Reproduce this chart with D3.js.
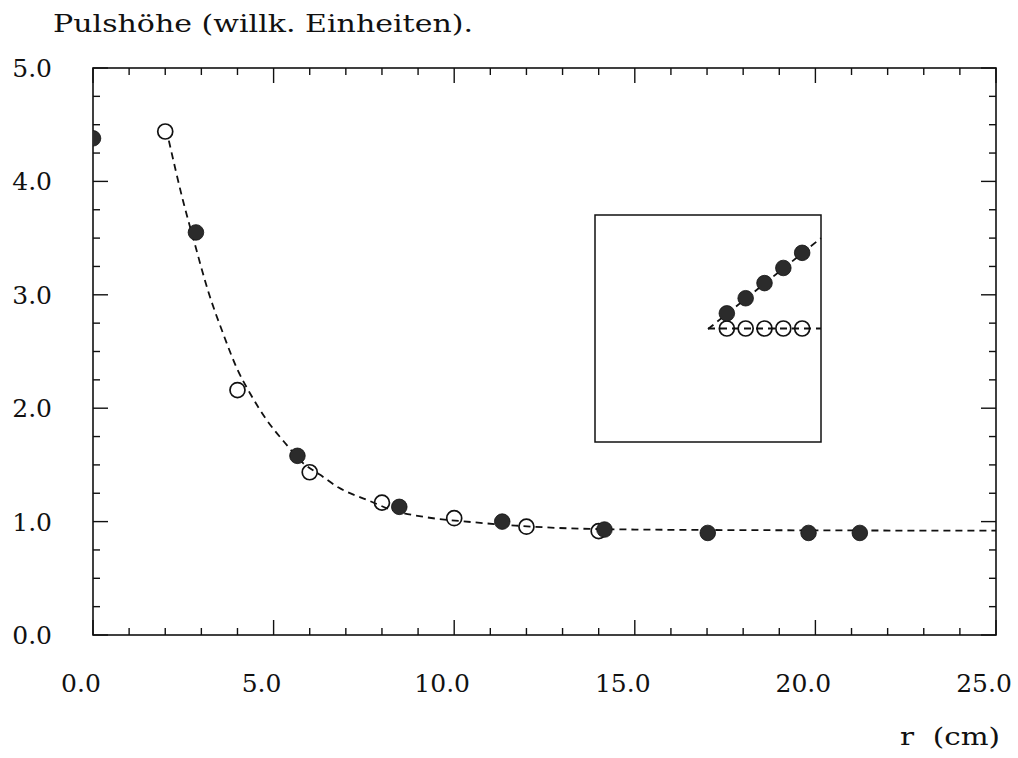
<!DOCTYPE html>
<html><head><meta charset="utf-8">
<script src="https://cdn.jsdelivr.net/npm/d3@7"></script>
<style>
html,body{margin:0;padding:0;background:#fff;}
svg{display:block;}
text{font-family:"DejaVu Serif",serif;fill:#111;}
</style></head>
<body>
<svg id="chart" width="1018" height="758"></svg>
<script>
// ---- data ----
const filledR = [0.0, 2.85, 5.66, 8.48, 11.33, 14.16, 17.02, 19.81, 21.23];
const filledH = [4.38, 3.55, 1.58, 1.13, 1.00, 0.93, 0.90, 0.90, 0.90];
const openR = [2.0, 4.0, 6.0, 8.0, 10.0, 12.0, 14.0];
const openH = [4.44, 2.16, 1.435, 1.167, 1.03, 0.955, 0.916];
const curveR = [2.1, 2.5, 2.8, 3.2, 3.6, 4.0, 4.35, 4.8, 5.3, 5.8, 6.3, 6.8, 7.6, 8.3, 9.2, 10.5, 11.7, 12.8, 15, 18, 21, 25];
const curveH = [4.36, 3.82, 3.47, 3.02, 2.66, 2.34, 2.13, 1.90, 1.70, 1.52, 1.41, 1.30, 1.19, 1.10, 1.04, 0.995, 0.965, 0.945, 0.93, 0.925, 0.922, 0.92];
const xTicks = [0, 5, 10, 15, 20, 25];
const yTicks = [0, 1, 2, 3, 4, 5];
const xTickLabels = ["0.0", "5.0", "10.0", "15.0", "20.0", "25.0"];
const yTickLabels = ["0.0", "1.0", "2.0", "3.0", "4.0", "5.0"];
const yTitle = "Pulshöhe (willk. Einheiten).";
const xTitle = "r  (cm)";
// inset (schematic, arbitrary units)
const insetFilledX = [7, 8, 9, 10, 11];
const insetFilledY = [6.8, 7.6, 8.4, 9.2, 10.0];
const insetOpenX = [7, 8, 9, 10, 11];
const insetOpenY = [6, 6, 6, 6, 6];
const insetDiagX = [6, 12];
const insetDiagY = [5.97, 10.78];
const insetFlatX = [6, 12];
const insetFlatY = [6, 6];

// ---- layout ----
const L = 93, R = 996, T = 68, B = 635;
const svg = d3.select("#chart");
const x = d3.scaleLinear().domain([0, 25]).range([L, R]);
const y = d3.scaleLinear().domain([0, 5]).range([B, T]);
const ink = "#111";

svg.append("defs").append("clipPath").attr("id", "plotclip")
  .append("rect").attr("x", L).attr("y", T).attr("width", R - L).attr("height", B - T);

// frame
svg.append("rect").attr("x", L).attr("y", T).attr("width", R - L).attr("height", B - T)
  .attr("fill", "none").attr("stroke", ink).attr("stroke-width", 1.6);

// ticks on all four sides
const xMinor = d3.range(0, 25.001, 1);
const yMinor = d3.range(0, 5.001, 0.25);
const isMajX = v => Math.abs(v / 5 - Math.round(v / 5)) < 1e-6;
const isMajY = v => Math.abs(v - Math.round(v)) < 1e-6;
const tk = svg.append("g").attr("stroke", ink).attr("stroke-width", 1.4);
xMinor.forEach(v => {
  const len = isMajX(v) ? 15 : 7;
  tk.append("line").attr("x1", x(v)).attr("x2", x(v)).attr("y1", B).attr("y2", B - len);
  tk.append("line").attr("x1", x(v)).attr("x2", x(v)).attr("y1", T).attr("y2", T + len);
});
yMinor.forEach(v => {
  const len = isMajY(v) ? 15 : 7;
  tk.append("line").attr("y1", y(v)).attr("y2", y(v)).attr("x1", L).attr("x2", L + len);
  tk.append("line").attr("y1", y(v)).attr("y2", y(v)).attr("x1", R).attr("x2", R - len);
});

// tick labels
const fs = 25;
svg.append("g").selectAll("text").data(xTicks).join("text")
  .attr("x", d => x(d) - 12).attr("y", 692)
  .attr("text-anchor", "middle").attr("font-size", fs)
  .text((d, i) => xTickLabels[i]);
svg.append("g").selectAll("text").data(yTicks).join("text")
  .attr("x", 52).attr("y", d => y(d) + 9)
  .attr("text-anchor", "end").attr("font-size", fs)
  .text((d, i) => yTickLabels[i]);

// titles
svg.append("text").attr("x", 53).attr("y", 32).attr("font-size", fs)
  .attr("textLength", 420).attr("lengthAdjust", "spacingAndGlyphs").text(yTitle);
svg.append("text").attr("x", 900).attr("y", 745).attr("font-size", fs)
  .attr("xml:space", "preserve").style("white-space", "pre")
  .attr("textLength", 100).attr("lengthAdjust", "spacingAndGlyphs").text(xTitle);

// main plot content
const plot = svg.append("g").attr("clip-path", "url(#plotclip)");
const line = d3.line().x(d => x(d[0])).y(d => y(d[1])).curve(d3.curveMonotoneX);
plot.append("path").datum(d3.zip(curveR, curveH)).attr("d", line)
  .attr("fill", "none").attr("stroke", ink).attr("stroke-width", 1.8)
  .attr("stroke-dasharray", "7,5");
plot.selectAll(".op").data(d3.zip(openR, openH)).join("circle").attr("class", "op")
  .attr("cx", d => x(d[0])).attr("cy", d => y(d[1])).attr("r", 7.5)
  .attr("fill", "none").attr("stroke", ink).attr("stroke-width", 1.7);
plot.selectAll(".fp").data(d3.zip(filledR, filledH)).join("circle").attr("class", "fp")
  .attr("cx", d => x(d[0])).attr("cy", d => y(d[1])).attr("r", 7.8)
  .attr("fill", "#2b2b2b").attr("stroke", "#111").attr("stroke-width", 0.8);

// inset
const IL = 595, IR = 821, IT = 215, IB = 442;
const ix = d3.scaleLinear().domain([0, 12]).range([IL, IR]);
const iy = d3.scaleLinear().domain([0, 12]).range([IB, IT]);
svg.append("rect").attr("x", IL).attr("y", IT).attr("width", IR - IL).attr("height", IB - IT)
  .attr("fill", "#fff").attr("stroke", ink).attr("stroke-width", 1.5);
const iline = d3.line().x(d => ix(d[0])).y(d => iy(d[1]));
[[insetDiagX, insetDiagY], [insetFlatX, insetFlatY]].forEach(([a, b]) => {
  svg.append("path").datum(d3.zip(a, b)).attr("d", iline)
    .attr("fill", "none").attr("stroke", ink).attr("stroke-width", 1.8)
    .attr("stroke-dasharray", "7,5");
});
svg.selectAll(".iop").data(d3.zip(insetOpenX, insetOpenY)).join("circle").attr("class", "iop")
  .attr("cx", d => ix(d[0])).attr("cy", d => iy(d[1])).attr("r", 7.5)
  .attr("fill", "none").attr("stroke", ink).attr("stroke-width", 1.7);
svg.selectAll(".ifp").data(d3.zip(insetFilledX, insetFilledY)).join("circle").attr("class", "ifp")
  .attr("cx", d => ix(d[0])).attr("cy", d => iy(d[1])).attr("r", 7.8)
  .attr("fill", "#2b2b2b").attr("stroke", "#111").attr("stroke-width", 0.8);
</script>
</body></html>
